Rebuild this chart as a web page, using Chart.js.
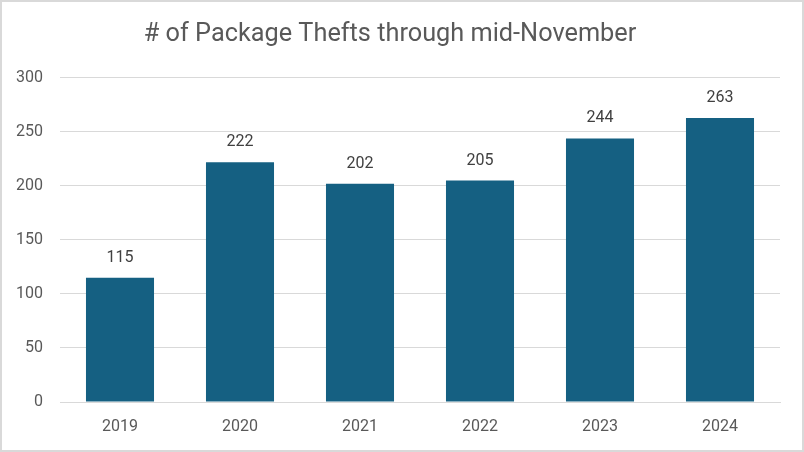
<!DOCTYPE html>
<html>
<head>
<meta charset="utf-8">
<script src="https://cdn.jsdelivr.net/npm/chart.js@4"></script>
<style>
html,body{margin:0;padding:0;background:#fff;}
#wrap{width:804px;height:452px;position:relative;}
</style>
</head>
<body>
<div id="wrap"><canvas id="c" width="804" height="452"></canvas></div>
<script>
const categories = ["2019","2020","2021","2022","2023","2024"];
const thefts = [115,222,202,205,244,263];
const yTicks = [0,50,100,150,200,250,300];
const titleText = "# of Package Thefts through mid-November";

const borderPlugin = {
  id:'borderPlugin',
  afterDraw(chart){
    const ctx = chart.ctx;
    ctx.save();
    ctx.strokeStyle = '#d9d9d9';
    ctx.lineWidth = 2;
    ctx.strokeRect(1,1,chart.width-2,chart.height-2);
    ctx.restore();
  }
};
const labelPlugin = {
  id:'labelPlugin',
  afterDatasetsDraw(chart){
    const ctx = chart.ctx;
    const meta = chart.getDatasetMeta(0);
    ctx.save();
    ctx.font = '16px Roboto';
    ctx.fillStyle = '#404040';
    ctx.textAlign = 'center';
    ctx.textBaseline = 'middle';
    meta.data.forEach((bar,i)=>{
      ctx.fillText(String(thefts[i]), bar.x, bar.y - 20);
    });
    ctx.restore();
  }
};

new Chart(document.getElementById('c'), {
  type:'bar',
  data:{
    labels:categories,
    datasets:[{data:thefts, backgroundColor:'#156082', categoryPercentage:1, barPercentage:0.567}]
  },
  options:{
    responsive:false,
    animation:false,
    devicePixelRatio:1,
    layout:{padding:{left:0,right:24,top:0,bottom:0}},
    plugins:{
      legend:{display:false},
      tooltip:{enabled:false},
      title:{display:true,text:titleText,color:'#595959',font:{family:'Roboto',size:25.3,weight:'normal',lineHeight:1.2},padding:{top:19.5,bottom:28.1}}
    },
    scales:{
      x:{
        grid:{display:false,drawTicks:false},
        border:{display:true,color:'#d9d9d9',width:1},
        ticks:{color:'#595959',font:{family:'Roboto',size:16},padding:15},
        afterFit(s){s.height=50;}
      },
      y:{
        min:0,max:300,
        afterBuildTicks(s){s.ticks = yTicks.map(v=>({value:v}));},
        grid:{color:'#d9d9d9',drawTicks:false,lineWidth:1},
        border:{display:false},
        ticks:{color:'#595959',font:{family:'Roboto',size:16},padding:17},
        afterFit(s){s.width=60;}
      }
    }
  },
  plugins:[borderPlugin,labelPlugin]
});
</script>
</body>
</html>
